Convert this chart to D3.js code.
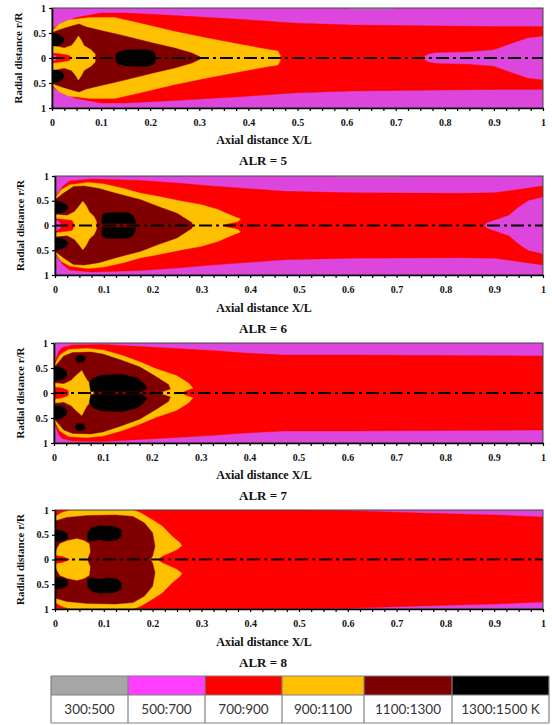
<!DOCTYPE html>
<html><head><meta charset="utf-8">
<script src="https://cdn.jsdelivr.net/npm/d3@7"></script>
<style>body{margin:0;background:#fff} svg{display:block}</style>
</head><body><svg id="c" width="552" height="725"></svg>
<script>
// ---------------- data ----------------
const panelTitles = ["ALR = 5", "ALR = 6", "ALR = 7", "ALR = 8"];
const bandLabels = ["300:500", "500:700", "700:900", "900:1100", "1100:1300", "1300:1500 K"];
const plotColors = ["#a0a0a0", "#dc46dc", "#ff0000", "#ffc000", "#800000", "#000000"];
const legendColors = ["#a6a6a6", "#ff3fff", "#ff0000", "#ffc000", "#7f0000", "#000000"];
const xTickValues = [0, 0.1, 0.2, 0.3, 0.4, 0.5, 0.6, 0.7, 0.8, 0.9, 1];
const xTickLabels = ["0", "0.1", "0.2", "0.3", "0.4", "0.5", "0.6", "0.7", "0.8", "0.9", "1"];
const yTickValues = [1, 0.5, 0, -0.5, -1];
const yTickLabels = ["1", "0.5", "0", "0.5", "1"];
const xMinorStep = 0.025;

// isotherm outlines, [x/L, r/R]; "axis" = upper half mirrored about r=0, "pair" = shape + its mirror
// ALR = 5
const alr5_300 = [[0.6,1],[0.61,0.98],[0.69,0.98],[0.7,1]];
const alr5_700 = [[0,0],[0,0.58],[0.02,0.7],[0.05,0.81],[0.1,0.9],[0.15,0.9],[0.25,0.85],[0.39,0.77],[0.49,0.7],[0.61,0.66],[0.75,0.645],[0.9,0.63],[1,0.63],[1,0]];
const alr5_core500 = [[0.755,0],[0.765,0.07],[0.78,0.1],[0.85,0.12],[0.9,0.16],[0.94,0.3],[0.97,0.4],[1,0.43],[1,0]];
const alr5_900 = [[0,0],[0,0.54],[0.015,0.68],[0.034,0.76],[0.077,0.81],[0.127,0.81],[0.177,0.7],[0.25,0.53],[0.32,0.39],[0.39,0.26],[0.44,0.17],[0.46,0.14],[0.465,0.05],[0.465,0]];
const alr5_1100 = [[0,0],[0,0.51],[0.02,0.58],[0.04,0.64],[0.055,0.68],[0.07,0.62],[0.1,0.55],[0.14,0.46],[0.21,0.29],[0.25,0.2],[0.285,0.1],[0.3,0.03],[0.305,0]];
const alr5_star = [[0,0],[0,0.25],[0.025,0.2],[0.04,0.25],[0.048,0.35],[0.054,0.44],[0.06,0.35],[0.065,0.25],[0.08,0.16],[0.088,0.08],[0.088,0]];
const alr5_leftred = [[0,0],[0,0.1],[0.02,0.08],[0.035,0.05],[0.04,0]];
const alr5_left500 = [[0,0],[0,0.07],[0.008,0.04],[0.01,0]];
const alr5_blob = [[0,0.24],[0,0.5],[0.012,0.48],[0.022,0.42],[0.025,0.36],[0.02,0.28],[0.01,0.24]];
const alr5_core = [[0.13,0],[0.13,0.08],[0.137,0.13],[0.15,0.16],[0.19,0.17],[0.205,0.14],[0.21,0.08],[0.21,0]];
// ALR = 6
const alr6_300 = [[0.57,1],[0.58,0.98],[0.7,0.98],[0.71,1]];
const alr6_700 = [[0,0],[0,0.57],[0.017,0.8],[0.03,0.9],[0.075,0.94],[0.176,0.91],[0.25,0.86],[0.32,0.8],[0.47,0.69],[0.61,0.66],[0.83,0.65],[0.9,0.66],[0.96,0.74],[1,0.8],[1,0]];
const alr6_core500 = [[0.88,0],[0.885,0.05],[0.9,0.1],[0.93,0.2],[0.95,0.37],[0.97,0.5],[1,0.57],[1,0]];
const alr6_900 = [[0,0],[0,0.55],[0.013,0.72],[0.03,0.82],[0.067,0.87],[0.1,0.84],[0.14,0.75],[0.176,0.65],[0.21,0.59],[0.26,0.49],[0.3,0.42],[0.335,0.32],[0.357,0.22],[0.38,0.13],[0.375,0.08],[0.35,0.03],[0.345,0]];
const alr6_1100 = [[0,0],[0,0.52],[0.017,0.65],[0.038,0.79],[0.06,0.8],[0.09,0.75],[0.125,0.65],[0.176,0.52],[0.21,0.39],[0.25,0.25],[0.28,0.06],[0.283,0]];
const alr6_star = [[0,0],[0,0.22],[0.025,0.2],[0.04,0.28],[0.05,0.4],[0.057,0.49],[0.064,0.4],[0.07,0.28],[0.08,0.18],[0.085,0.08],[0.085,0]];
const alr6_leftred = [[0,0],[0,0.14],[0.02,0.12],[0.035,0.1],[0.04,0]];
const alr6_left500 = [[0,0],[0,0.12],[0.01,0.06],[0.012,0]];
const alr6_blob = [[0,0.25],[0,0.5],[0.012,0.48],[0.024,0.42],[0.027,0.36],[0.02,0.28],[0.01,0.25]];
const alr6_core = [[0.096,0.04],[0.096,0.2],[0.1,0.24],[0.11,0.26],[0.15,0.26],[0.16,0.2],[0.165,0.1],[0.165,0.04]];
// ALR = 7
const alr7_700 = [[0,0],[0,0.57],[0.01,0.84],[0.017,0.91],[0.038,0.96],[0.1,0.97],[0.176,0.93],[0.25,0.89],[0.32,0.85],[0.39,0.8],[0.47,0.76],[0.61,0.76],[0.8,0.75],[1,0.74],[1,0]];
const alr7_900 = [[0,0],[0,0.54],[0.012,0.76],[0.03,0.87],[0.067,0.89],[0.1,0.86],[0.14,0.75],[0.176,0.62],[0.21,0.48],[0.25,0.35],[0.275,0.2],[0.284,0.1],[0.27,0.05],[0.26,0]];
const alr7_1100 = [[0,0],[0,0.51],[0.02,0.74],[0.038,0.81],[0.075,0.82],[0.1,0.78],[0.14,0.65],[0.176,0.52],[0.21,0.32],[0.234,0.17],[0.238,0.08],[0.22,0.02],[0.21,0]];
const alr7_star = [[0,0],[0,0.2],[0.02,0.18],[0.035,0.25],[0.045,0.35],[0.057,0.45],[0.062,0.35],[0.068,0.25],[0.078,0.15],[0.082,0.06],[0.08,0]];
const alr7_leftred = [[0,0],[0,0.12],[0.015,0.1],[0.028,0.06],[0.03,0]];
const alr7_blob = [[0,0.25],[0,0.53],[0.012,0.52],[0.024,0.45],[0.027,0.36],[0.02,0.28],[0.01,0.25]];
const alr7_dot = [[0.043,0.68],[0.048,0.75],[0.058,0.75],[0.065,0.7],[0.06,0.62],[0.048,0.61]];
const alr7_core = [[0.075,0.03],[0.072,0.2],[0.08,0.3],[0.1,0.36],[0.14,0.37],[0.17,0.3],[0.185,0.18],[0.19,0.1],[0.18,0.03]];
// ALR = 8
const alr8_700 = [[0,0],[0,1],[0.5,1],[0.6,0.985],[0.75,0.94],[0.9,0.9],[1,0.86],[1,0]];
const alr8_900 = [[0,0],[0,0.87],[0.015,0.95],[0.033,1],[0.16,1],[0.176,0.94],[0.2,0.8],[0.22,0.67],[0.24,0.47],[0.256,0.34],[0.26,0.28],[0.25,0.2],[0.22,0.07],[0.21,0]];
const alr8_1100 = [[0,0],[0,0.78],[0.024,0.85],[0.067,0.89],[0.125,0.9],[0.16,0.87],[0.183,0.74],[0.2,0.54],[0.205,0.27],[0.2,0.07],[0.195,0]];
const alr8_inner = [[0,0],[0,0.1],[0.003,0.2],[0.01,0.32],[0.025,0.38],[0.045,0.42],[0.06,0.38],[0.07,0.32],[0.072,0.15],[0.068,0.05],[0.066,0]];
const alr8_leftred = [[0,0],[0,0.08],[0.015,0.06],[0.03,0]];
const alr8_blob = [[0,0.36],[0,0.6],[0.015,0.58],[0.026,0.52],[0.026,0.42],[0.015,0.37]];
const alr8_core = [[0.067,0.38],[0.067,0.55],[0.075,0.64],[0.09,0.68],[0.12,0.67],[0.136,0.6],[0.136,0.48],[0.128,0.4],[0.11,0.37],[0.09,0.4],[0.075,0.37]];

// drawing order per panel: [band index, mode, outline]
const panelLayers = [
  [[2,"axis",alr5_700],[1,"axis",alr5_core500],[0,"single",alr5_300],[3,"axis",alr5_900],[4,"axis",alr5_1100],
   [3,"axis",alr5_star],[2,"axis",alr5_leftred],[1,"axis",alr5_left500],[5,"pair",alr5_blob],[5,"axis",alr5_core]],
  [[2,"axis",alr6_700],[1,"axis",alr6_core500],[0,"single",alr6_300],[3,"axis",alr6_900],[4,"axis",alr6_1100],
   [3,"axis",alr6_star],[2,"axis",alr6_leftred],[1,"axis",alr6_left500],[5,"pair",alr6_blob],[5,"pair",alr6_core]],
  [[2,"axis",alr7_700],[3,"axis",alr7_900],[4,"axis",alr7_1100],[3,"axis",alr7_star],[2,"axis",alr7_leftred],
   [5,"pair",alr7_blob],[5,"pair",alr7_dot],[5,"pair",alr7_core]],
  [[2,"axis",alr8_700],[3,"axis",alr8_900],[4,"axis",alr8_1100],[3,"axis",alr8_inner],[2,"axis",alr8_leftred],
   [5,"pair",alr8_blob],[5,"pair",alr8_core]]
];

// ---------------- layout ----------------
const layout = [
  {left: 52, top: 8,   h: 100},
  {left: 55, top: 176, h: 99},
  {left: 54, top: 343, h: 100},
  {left: 55, top: 510, h: 99}
];
const plotRight = 543;
const serif = "'Liberation Serif','Times New Roman',serif";

const svg = d3.select("#c");
const mirror = p => p.map(([a, b]) => [a, -b]);

layout.forEach((L, i) => {
  const x = d3.scaleLinear().domain([0, 1]).range([L.left, plotRight]);
  const y = d3.scaleLinear().domain([1, -1]).range([L.top, L.top + L.h]);
  const line = d3.line().x(d => x(d[0])).y(d => y(d[1])).curve(d3.curveLinearClosed);
  const g = svg.append("g");
  g.append("clipPath").attr("id", "clip" + i).append("rect")
    .attr("x", x(0)).attr("y", y(1)).attr("width", x(1) - x(0)).attr("height", y(-1) - y(1));
  const gc = g.append("g").attr("clip-path", `url(#clip${i})`);
  gc.append("rect").attr("x", x(0)).attr("y", y(1)).attr("width", x(1) - x(0)).attr("height", y(-1) - y(1))
    .attr("fill", plotColors[1]);
  panelLayers[i].forEach(([band, mode, pts]) => {
    let polys;
    if (mode === "axis") polys = [pts.concat(mirror(pts).reverse())];
    else if (mode === "pair") polys = [pts, mirror(pts)];
    else polys = [pts];
    polys.forEach(p => gc.append("path").attr("d", line(p)).attr("fill", plotColors[band])
      .attr("stroke", plotColors[band]).attr("stroke-width", 0.4));
  });
  // centre line
  gc.append("line").attr("x1", x(0)).attr("x2", x(1)).attr("y1", y(0)).attr("y2", y(0))
    .attr("stroke", "#000").attr("stroke-width", 2).attr("stroke-dasharray", "13,4,3,4");
  // frame
  g.append("rect").attr("x", x(0)).attr("y", y(1)).attr("width", x(1) - x(0)).attr("height", y(-1) - y(1))
    .attr("fill", "none").attr("stroke", "#444").attr("stroke-width", 1);

  const minor = d3.range(0, 1 + 1e-9, xMinorStep);
  const xAxis = d3.axisBottom(x).tickValues(minor).tickSize(3).tickSizeOuter(0).tickPadding(8)
    .tickFormat(d => { const k = xTickValues.findIndex(v => Math.abs(v - d) < 1e-6); return k >= 0 ? xTickLabels[k] : ""; });
  const ax = g.append("g").attr("transform", `translate(0,${y(-1)})`).call(xAxis);
  const yAxis = d3.axisLeft(y).tickValues(yTickValues).tickSize(3).tickSizeOuter(0).tickPadding(3)
    .tickFormat((d, k) => yTickLabels[k]);
  const ay = g.append("g").attr("transform", `translate(${x(0)},0)`).call(yAxis);
  [ax, ay].forEach(a => {
    a.select(".domain").attr("stroke", "#000").attr("stroke-width", 1.6);
    a.selectAll(".tick line").attr("stroke", "#000").attr("stroke-width", 1.2);
    a.selectAll("text").attr("font-family", serif).attr("font-weight", "bold").attr("font-size", 10).attr("fill", "#111");
  });
  // titles
  g.append("text").attr("transform", `translate(${i === 0 ? 18 : 20.5},${y(0)}) rotate(-90)`)
    .attr("text-anchor", "middle").attr("dy", "0.35em")
    .attr("font-family", serif).attr("font-weight", "bold").attr("font-size", 11).attr("fill", "#111")
    .text("Radial distance r/R");
  g.append("text").attr("x", 264).attr("y", L.top + 132).attr("dy", "0.35em").attr("text-anchor", "middle")
    .attr("font-family", serif).attr("font-weight", "bold").attr("font-size", 12).attr("fill", "#111")
    .text("Axial distance X/L");
  g.append("text").attr("x", 263).attr("y", L.top + 152).attr("dy", "0.35em").attr("text-anchor", "middle")
    .attr("font-family", serif).attr("font-weight", "bold").attr("font-size", 13).attr("fill", "#111")
    .text(panelTitles[i]);
});

// ---------------- legend ----------------
const lx = [51, 128, 205, 282, 364, 452, 549];
const ly = [676, 695, 723];
const lg = svg.append("g");
bandLabels.forEach((lab, k) => {
  lg.append("rect").attr("x", lx[k]).attr("y", ly[0]).attr("width", lx[k + 1] - lx[k]).attr("height", ly[1] - ly[0])
    .attr("fill", legendColors[k]);
  lg.append("text").attr("x", (lx[k] + lx[k + 1]) / 2).attr("y", (ly[1] + ly[2]) / 2).attr("dy", "0.35em")
    .attr("text-anchor", "middle").attr("font-family", "Lato, 'Open Sans', sans-serif").attr("font-size", 13.5)
    .attr("fill", "#333").text(lab);
});
lx.forEach(v => lg.append("line").attr("x1", v).attr("x2", v).attr("y1", ly[0]).attr("y2", ly[2])
  .attr("stroke", "#808080").attr("stroke-width", 1.2));
ly.forEach(v => lg.append("line").attr("x1", lx[0]).attr("x2", lx[lx.length - 1]).attr("y1", v).attr("y2", v)
  .attr("stroke", "#808080").attr("stroke-width", 1.2));
</script></body></html>
